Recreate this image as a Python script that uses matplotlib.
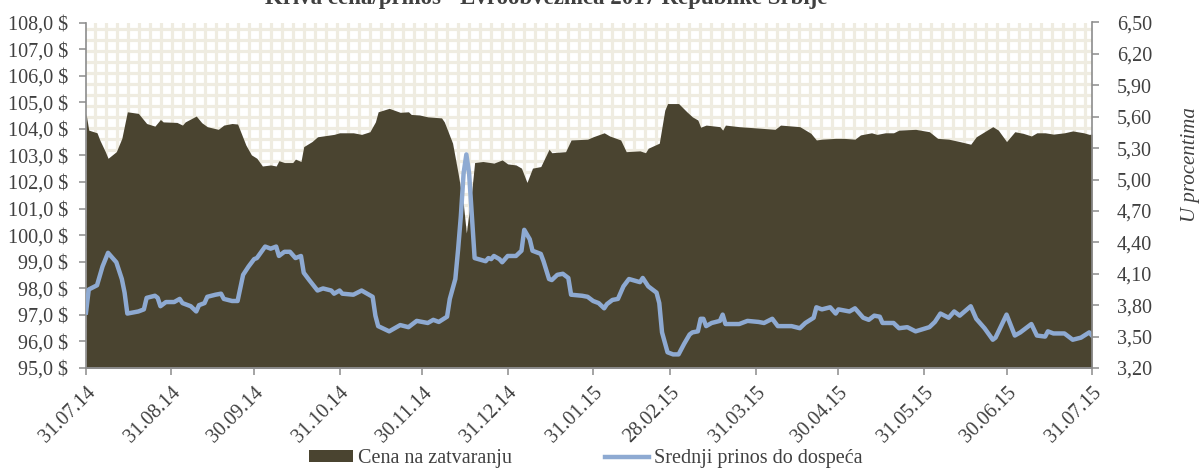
import numpy as np
import pandas as pd
import matplotlib
matplotlib.use('Agg')
import matplotlib.pyplot as plt
from matplotlib.patches import Patch
from matplotlib.lines import Line2D

# start date of the series, offsets below are days after it
start = '2014-07-31'

# closing price (left axis, $)
price_days = [0, 1, 4, 5, 7, 8, 11, 13, 15, 19, 22, 25, 27, 28, 33, 35, 36, 40, 42, 44,
	48, 50, 53, 55, 58, 60, 62, 64, 67, 69, 70, 72, 75, 76, 78, 79, 82, 84, 86, 90,
	92, 97, 100, 103, 105, 106, 110, 114, 117, 118, 121, 124, 129, 130, 133, 135, 137, 138, 140, 141,
	144, 148, 151, 153, 156, 158, 160, 162, 165, 168, 169, 174, 176, 182, 184, 188, 190, 194, 196, 201,
	203, 204, 208, 210, 211, 215, 218, 220, 222, 223, 225, 230, 231, 232, 237, 245, 250, 252, 259, 263,
	265, 267, 272, 275, 279, 281, 285, 287, 290, 293, 295, 301, 306, 309, 313, 317, 321, 323, 326, 329,
	331, 334, 337, 340, 343, 345, 348, 351, 355, 358, 362, 364, 365]
price = [104.58, 103.95, 103.85, 103.58, 103.14, 102.89, 103.14, 103.64, 104.64, 104.58, 104.20, 104.10, 104.35, 104.26, 104.24, 104.14, 104.26, 104.48, 104.23, 104.08,
	103.98, 104.14, 104.20, 104.18, 103.39, 103.02, 102.89, 102.60, 102.64, 102.60, 102.80, 102.73, 102.73, 102.86, 102.77, 103.33, 103.52, 103.70, 103.73, 103.79,
	103.85, 103.85, 103.79, 103.89, 104.26, 104.64, 104.77, 104.62, 104.64, 104.54, 104.52, 104.45, 104.41, 104.26, 103.46, 102.33, 101.08, 100.08, 101.71, 102.73,
	102.77, 102.71, 102.83, 102.68, 102.64, 102.52, 101.98, 102.52, 102.58, 103.23, 103.10, 103.14, 103.58, 103.61, 103.70, 103.85, 103.73, 103.58, 103.14, 103.17,
	103.10, 103.27, 103.46, 104.70, 104.95, 104.95, 104.64, 104.45, 104.33, 104.06, 104.14, 104.08, 103.95, 104.14, 104.08, 104.02, 103.98, 104.14, 104.08, 103.83,
	103.58, 103.61, 103.64, 103.64, 103.61, 103.77, 103.85, 103.79, 103.85, 103.85, 103.95, 103.98, 103.89, 103.64, 103.61, 103.52, 103.42, 103.70, 103.89, 104.08,
	103.95, 103.52, 103.89, 103.83, 103.73, 103.85, 103.85, 103.80, 103.85, 103.92, 103.85, 103.79, 103.80]

# average yield to maturity (right axis, %)
yield_days = [0, 1, 4, 6, 8, 11, 13, 14, 15, 19, 21, 22, 25, 26, 27, 29, 32, 34, 35, 38,
	40, 41, 43, 44, 47, 49, 50, 53, 55, 57, 59, 61, 62, 65, 67, 69, 70, 72, 74, 76,
	78, 79, 81, 84, 86, 89, 90, 92, 93, 97, 100, 104, 105, 106, 110, 114, 117, 120, 124, 126,
	128, 131, 132, 134, 135, 136, 137, 138, 139, 141, 145, 146, 147, 148, 150, 151, 153, 155, 156, 158,
	159, 161, 162, 165, 166, 168, 169, 171, 173, 175, 176, 180, 182, 184, 186, 188, 189, 191, 193, 195,
	197, 201, 202, 204, 207, 208, 209, 211, 213, 215, 217, 219, 220, 222, 223, 224, 225, 227, 230, 231,
	232, 237, 240, 244, 246, 249, 251, 253, 256, 259, 261, 264, 265, 267, 270, 272, 273, 277, 279, 282,
	284, 286, 288, 289, 293, 295, 298, 301, 306, 308, 310, 313, 315, 317, 321, 323, 326, 329, 330, 334,
	337, 339, 343, 345, 348, 349, 351, 355, 358, 361, 364, 365]
avg_yield = [3.73, 3.95, 3.99, 4.17, 4.30, 4.21, 4.05, 3.92, 3.72, 3.74, 3.76, 3.87, 3.89, 3.87, 3.79, 3.83, 3.83, 3.86, 3.82, 3.79,
	3.74, 3.80, 3.82, 3.88, 3.90, 3.91, 3.86, 3.84, 3.84, 4.09, 4.17, 4.24, 4.25, 4.36, 4.34, 4.36, 4.27, 4.31, 4.31, 4.25,
	4.27, 4.11, 4.04, 3.94, 3.96, 3.94, 3.91, 3.94, 3.91, 3.90, 3.94, 3.88, 3.70, 3.60, 3.55, 3.61, 3.59, 3.65, 3.63, 3.66,
	3.64, 3.69, 3.86, 4.05, 4.33, 4.65, 5.06, 5.24, 5.06, 4.25, 4.22, 4.25, 4.24, 4.27, 4.24, 4.21, 4.27, 4.27, 4.27, 4.32,
	4.52, 4.43, 4.32, 4.29, 4.22, 4.05, 4.04, 4.09, 4.10, 4.06, 3.90, 3.89, 3.88, 3.84, 3.82, 3.77, 3.81, 3.85, 3.86, 3.98,
	4.05, 4.02, 4.06, 3.98, 3.92, 3.82, 3.54, 3.35, 3.33, 3.33, 3.43, 3.52, 3.54, 3.55, 3.67, 3.67, 3.60, 3.63, 3.65, 3.71,
	3.62, 3.62, 3.65, 3.64, 3.63, 3.67, 3.60, 3.60, 3.60, 3.58, 3.63, 3.68, 3.78, 3.76, 3.78, 3.72, 3.76, 3.74, 3.77, 3.68,
	3.66, 3.70, 3.69, 3.63, 3.63, 3.58, 3.59, 3.55, 3.59, 3.64, 3.72, 3.68, 3.74, 3.70, 3.79, 3.67, 3.58, 3.47, 3.49, 3.71,
	3.51, 3.54, 3.62, 3.51, 3.50, 3.55, 3.53, 3.53, 3.47, 3.49, 3.54, 3.51]

tick_dates = ['2014-07-31', '2014-08-31', '2014-09-30', '2014-10-31', '2014-11-30', '2014-12-31', '2015-01-31',
	'2015-02-28', '2015-03-31', '2015-04-30', '2015-05-31', '2015-06-30', '2015-07-31']
left_ticks = [95, 96, 97, 98, 99, 100, 101, 102, 103, 104, 105, 106, 107, 108]
right_ticks = [3.20, 3.50, 3.80, 4.10, 4.40, 4.70, 5.00, 5.30, 5.60, 5.90, 6.20, 6.50]

title = 'Kriva cena/prinos - Evroobveznica 2017 Republike Srbije'
price_label = 'Cena na zatvaranju'
yield_label = 'Srednji prinos do dospeća'
right_label = 'U procentima'


def main():
	plt.rcParams['font.family'] = ['Liberation Serif', 'DejaVu Serif']
	txt = '#404040'
	spine = '#8c8c8c'
	fill_col = '#4a4430'
	line_col = '#8eaad2'
	grid_col = '#efece1'
	fs = 14.5

	p_dates = pd.Timestamp(start) + pd.to_timedelta(price_days, unit='D')
	y_dates = pd.Timestamp(start) + pd.to_timedelta(yield_days, unit='D')
	ticks = pd.to_datetime(tick_dates)

	fig = plt.figure(figsize=(12.01, 4.70), dpi=100)
	rect = [86 / 1201, 1 - 368 / 470, (1092 - 86) / 1201, (368 - 22.5) / 470]

	# patterned background (excel "large grid" fill)
	bg = fig.add_axes(rect, zorder=0)
	bg.set_xlim(0, 1006)
	bg.set_ylim(0, 345.5)
	bg.set_xticks(np.arange(9, 1006, 11))
	bg.set_yticks(np.arange(9, 345, 11))
	bg.grid(True, color=grid_col, linewidth=2.3)
	bg.tick_params(length=0, labelleft=False, labelbottom=False)
	for s in bg.spines.values():
		s.set_visible(False)

	ax1 = fig.add_axes(rect, zorder=1)
	ax1.patch.set_visible(False)
	ax1.fill_between(p_dates, price, 95, color=fill_col, linewidth=0)
	ax1.set_ylim(95, 108)
	ax1.set_yticks(left_ticks)
	ax1.set_yticklabels([('%.1f $' % v).replace('.', ',') for v in left_ticks])
	ax1.set_xlim(ticks[0], ticks[-1])
	ax1.set_xticks(ticks)
	ax1.set_xticklabels([d.strftime('%d.%m.%y') for d in ticks], rotation=45, ha='right', va='top',
		rotation_mode='anchor')

	ax2 = ax1.twinx()
	ax2.set_zorder(2)
	ax2.plot(y_dates, avg_yield, color=line_col, linewidth=3.2, solid_joinstyle='round')
	ax2.set_ylim(3.2, 6.5)
	ax2.set_yticks(right_ticks)
	ax2.set_yticklabels([('%.2f' % v).replace('.', ',') for v in right_ticks])
	ax2.set_xlim(ticks[0], ticks[-1])

	for ax in (ax1, ax2):
		for s in ax.spines.values():
			s.set_color(spine)
			s.set_linewidth(1.2)
		ax.spines['top'].set_visible(False)
		ax.tick_params(colors=spine, labelcolor=txt, labelsize=fs, length=5, width=1.1, pad=8)
	ax2.spines['left'].set_visible(False)
	ax1.spines['right'].set_visible(False)
	ax1.tick_params(axis='x', pad=6)
	ax2.tick_params(axis='y', pad=13)

	fig.text(1190 / 1201, 1 - 165 / 470, right_label, rotation=90, style='italic', color=txt,
		fontsize=15, ha='center', va='center')
	fig.text(546 / 1201, 1 - 4 / 470, title, fontweight='bold', color=txt, fontsize=16.5,
		ha='center', va='baseline')

	handles = [Patch(facecolor=fill_col, edgecolor='none'),
		Line2D([], [], color=line_col, linewidth=3.2)]
	fig.legend(handles, [price_label, yield_label], loc='center', ncol=2,
		bbox_to_anchor=(586 / 1201, 1 - 459 / 470), frameon=False, fontsize=fs,
		handlelength=2.2, handleheight=0.55, handletextpad=0.25, columnspacing=4.6,
		labelcolor=txt)

	plt.savefig('out.png', dpi=100)
	plt.close()


if __name__ == "__main__":
	main()
